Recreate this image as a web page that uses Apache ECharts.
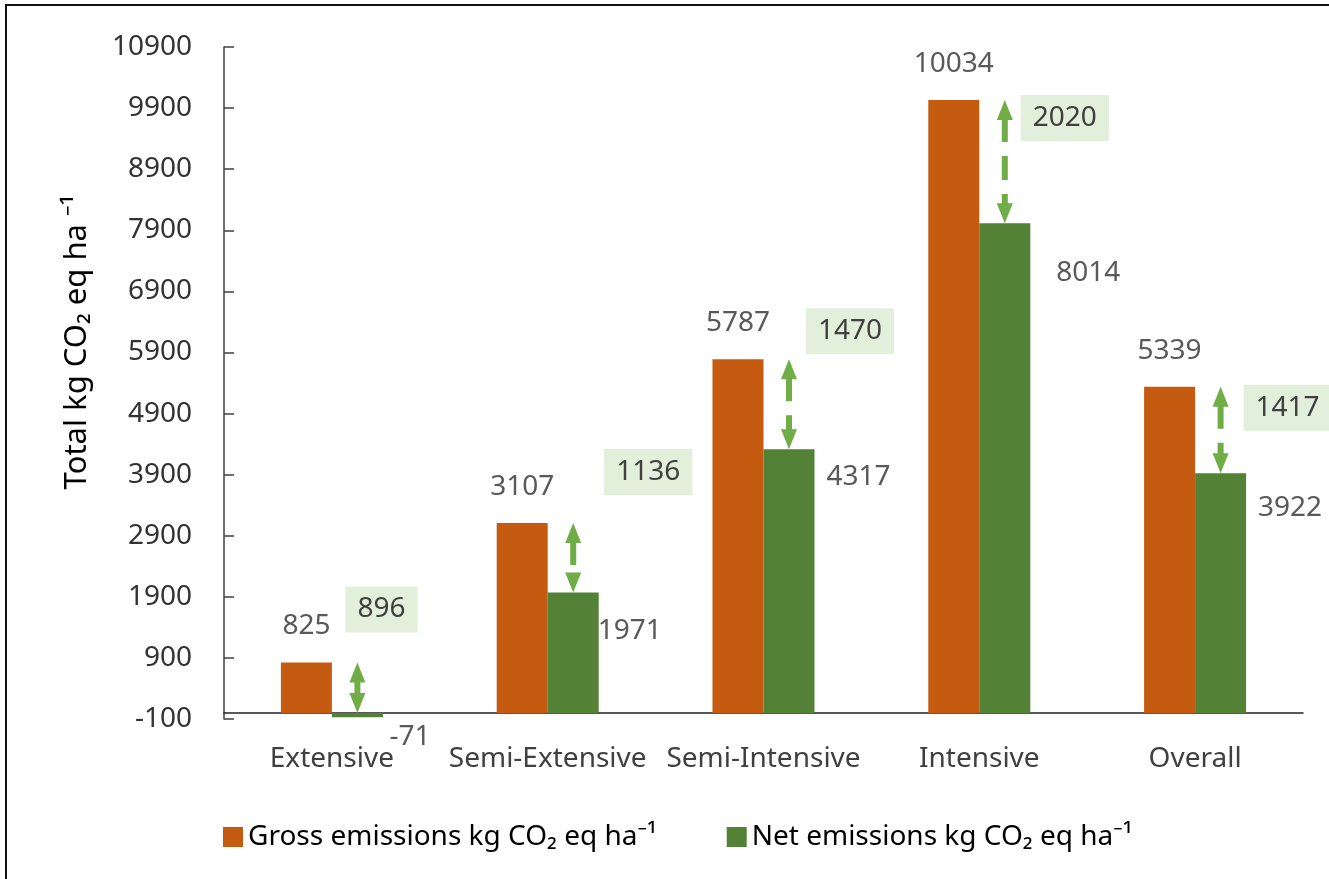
<!DOCTYPE html>
<html>
<head>
<meta charset="utf-8">
<script src="https://cdn.jsdelivr.net/npm/echarts@6/dist/echarts.min.js"></script>
<style>
  html, body { margin: 0; padding: 0; background: #fff; }
  #chart { width: 1329px; height: 879px; }
</style>
</head>
<body>
<div id="chart"></div>
<script>
// Emission totals per aquaculture system
const categories = ['Extensive', 'Semi-Extensive', 'Semi-Intensive', 'Intensive', 'Overall'];
const grossEmissions = [825, 3107, 5787, 10034, 5339];
const netEmissions = [-71, 1971, 4317, 8014, 3922];
const reductions = [896, 1136, 1470, 2020, 1417];

// Value axis range
const yMin = -100;
const yMax = 10900;
const yStep = 1000;

// Placement of the hand-set annotation labels (pixels)
const reductionBoxShift = [[24, -53], [75, -51], [61, -28], [60, 18], [67, 21]];
const netLabelShift = [[27, 20], [31, 39], [44, 28], [58, 50], [44, 35]];

const FONT = '"Noto Sans", "Open Sans", sans-serif';
const BAR_W = 51;
const ORANGE = '#C55A11';
const GREEN = '#538135';
const ARROW = '#70AD47';
const BOX = '#E2EFDA';

const chart = echarts.init(document.getElementById('chart'));

function arrowItem(params, api) {
  const i = api.value(0);
  const top = api.coord([i, api.value(1)]);
  const bot = api.coord([i, Math.max(api.value(2), 0)]);
  const x = top[0] + BAR_W / 2;
  const y1 = top[1];
  const y2 = bot[1];
  const hh = 20, hw = 8;
  return {
    type: 'group',
    children: [
      {
        type: 'line',
        shape: { x1: x, y1: y1 + hh - 2, x2: x, y2: y2 - hh + 2 },
        style: { stroke: ARROW, lineWidth: 6, lineDash: [24, 14] }
      },
      {
        type: 'polygon',
        shape: { points: [[x, y1], [x - hw, y1 + hh], [x + hw, y1 + hh]] },
        style: { fill: ARROW }
      },
      {
        type: 'polygon',
        shape: { points: [[x, y2], [x - hw, y2 - hh], [x + hw, y2 - hh]] },
        style: { fill: ARROW }
      }
    ]
  };
}

function reductionItem(params, api) {
  const i = api.value(0);
  const top = api.coord([i, api.value(1)]);
  const s = reductionBoxShift[params.dataIndex];
  return {
    type: 'text',
    style: {
      text: String(api.value(2)),
      x: top[0] + BAR_W / 2 + s[0],
      y: top[1] + s[1],
      align: 'center',
      verticalAlign: 'middle',
      font: '28px ' + FONT,
      fill: '#404040',
      backgroundColor: BOX,
      padding: [9, 12, 9, 12]
    }
  };
}

function netLabelItem(params, api) {
  const i = api.value(0);
  const end = api.coord([i, api.value(1)]);
  const s = netLabelShift[params.dataIndex];
  return {
    type: 'text',
    style: {
      text: String(api.value(1)),
      x: end[0] + BAR_W + s[0],
      y: end[1] + s[1],
      align: 'center',
      verticalAlign: 'middle',
      font: '28px ' + FONT,
      fill: '#595959'
    }
  };
}

const option = {
  backgroundColor: '#fff',
  animation: false,
  textStyle: { fontFamily: FONT },
  grid: { left: 224, right: 26, top: 47, bottom: 160, containLabel: false },
  legend: {
    left: 218,
    top: 818,
    itemWidth: 20,
    itemHeight: 20,
    itemGap: 70,
    icon: 'rect',
    textStyle: { fontSize: 28, color: '#000', fontFamily: FONT },
    data: ['Gross emissions kg CO\u2082 eq ha\u207B\u00B9', 'Net emissions kg CO\u2082 eq ha\u207B\u00B9']
  },
  xAxis: {
    type: 'category',
    data: categories,
    axisLine: { onZero: true, lineStyle: { color: '#222', width: 1.5 } },
    axisTick: { show: false },
    axisLabel: { fontSize: 28, color: '#404040', margin: 26, interval: 0 }
  },
  yAxis: {
    type: 'value',
    min: yMin,
    max: yMax,
    interval: yStep,
    axisLine: { show: true, lineStyle: { color: '#404040', width: 1.5 } },
    axisTick: { show: true, inside: true, length: 10, lineStyle: { color: '#404040', width: 1.5 } },
    splitLine: { show: false },
    axisLabel: { fontSize: 28, color: '#333', margin: 32, formatter: (v) => String(v) }
  },
  graphic: [
    {
      type: 'rect',
      shape: { x: 6, y: 5, width: 1360, height: 900 },
      style: { fill: 'none', stroke: '#111', lineWidth: 2 },
      silent: true
    },
    {
      type: 'text',
      x: 77,
      y: 342,
      rotation: Math.PI / 2,
      style: {
        text: 'Total kg CO\u2082 eq ha \u207B\u00B9',
        font: '31px ' + FONT,
        fill: '#000',
        align: 'center',
        verticalAlign: 'middle'
      }
    }
  ],
  series: [
    {
      name: 'Gross emissions kg CO\u2082 eq ha\u207B\u00B9',
      type: 'bar',
      data: grossEmissions,
      barWidth: BAR_W,
      barGap: '0%',
      itemStyle: { color: ORANGE },
      label: { show: true, position: 'top', distance: 22, fontSize: 28, color: '#595959' },
      z: 2
    },
    {
      name: 'Net emissions kg CO\u2082 eq ha\u207B\u00B9',
      type: 'bar',
      data: netEmissions,
      barWidth: BAR_W,
      barGap: '0%',
      itemStyle: { color: GREEN },
      z: 2
    },
    {
      type: 'custom',
      renderItem: arrowItem,
      data: categories.map((c, i) => [i, grossEmissions[i], netEmissions[i]]),
      z: 5,
      silent: true
    },
    {
      type: 'custom',
      renderItem: reductionItem,
      data: categories.map((c, i) => [i, grossEmissions[i], reductions[i]]),
      z: 6,
      silent: true
    },
    {
      type: 'custom',
      renderItem: netLabelItem,
      data: categories.map((c, i) => [i, netEmissions[i]]),
      z: 6,
      silent: true
    }
  ]
};

chart.setOption(option);
</script>
</body>
</html>
